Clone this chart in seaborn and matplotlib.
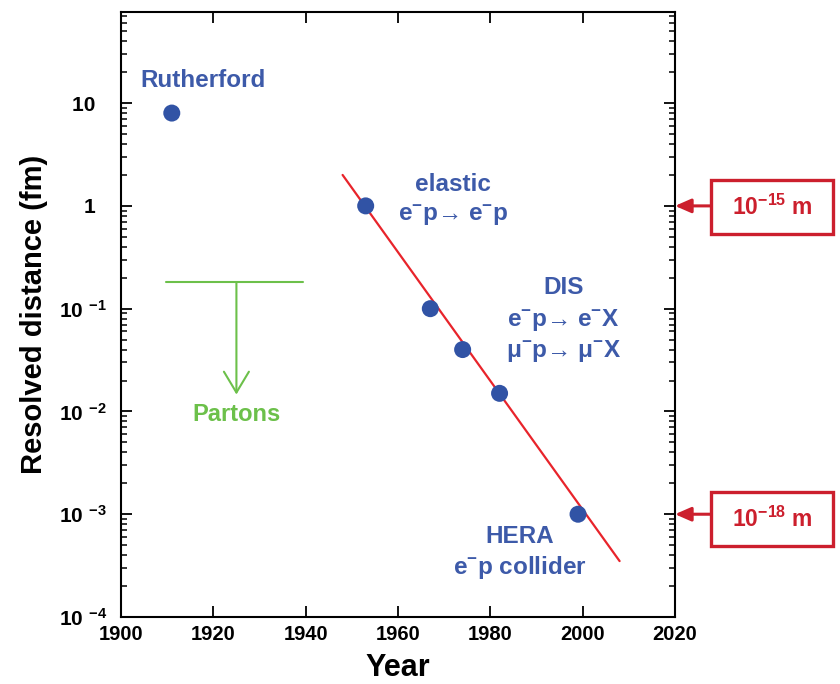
import math
import matplotlib
matplotlib.use("Agg")
import matplotlib.pyplot as plt
from matplotlib.patches import Rectangle
from matplotlib.ticker import FixedLocator, FuncFormatter, LogLocator, NullFormatter
import seaborn as sns
import pandas as pd

# ---- data ----
years = [1911, 1953, 1967, 1974, 1982, 1999]
distance_fm = [8.0, 1.0, 0.1, 0.04, 0.015, 0.001]
fit_years = [1948, 2008]
fit_distance_fm = [2.0, 3.5e-4]
parton_bar_years = [1909.7, 1939.4]
parton_level_fm = 0.18
parton_arrow_year = 1925
parton_arrow_tip_fm = 0.0146
x_ticks = [1900, 1920, 1940, 1960, 1980, 2000, 2020]
y_ticks = [1e-4, 1e-3, 1e-2, 1e-1, 1, 10]

BLUE = "#3153a5"
TXT_BLUE = "#3d5aa9"
GREEN = "#6cc04a"
RED = "#e8242b"
BOX_RED = "#cc1f2d"

sns.set_theme(style="ticks")
plt.rcParams["font.family"] = ["Liberation Sans", "DejaVu Sans"]
plt.rcParams["font.weight"] = "bold"
plt.rcParams["text.color"] = "black"
plt.rcParams["axes.labelcolor"] = "black"
plt.rcParams["xtick.color"] = "black"
plt.rcParams["ytick.color"] = "black"
plt.rcParams["mathtext.fontset"] = "custom"
plt.rcParams["mathtext.rm"] = "Liberation Sans:bold"
plt.rcParams["mathtext.bf"] = "Liberation Sans:bold"
plt.rcParams["mathtext.it"] = "Liberation Sans:bold"
plt.rcParams["mathtext.default"] = "bf"

W, H = 840, 684
fig = plt.figure(figsize=(8.4, 6.84), dpi=100)
ax = fig.add_axes([121 / W, 1 - 617 / H, (675 - 121) / W, (617 - 12) / H])

df_pts = pd.DataFrame({"year": years, "dist": distance_fm})
df_fit = pd.DataFrame({"year": fit_years, "dist": fit_distance_fm})

sns.lineplot(data=df_fit, x="year", y="dist", ax=ax, color=RED, lw=1.6, zorder=2)
sns.scatterplot(data=df_pts, x="year", y="dist", ax=ax, color=BLUE, s=150,
                edgecolor="none", zorder=3)

ax.set_yscale("log")
ax.set_xlim(1900, 2020)
ax.set_ylim(1e-4, 77)

# partons marker
ax.plot(parton_bar_years, [parton_level_fm, parton_level_fm], color=GREEN, lw=1.5)
ax.annotate("", xy=(parton_arrow_year, parton_arrow_tip_fm),
            xytext=(parton_arrow_year, parton_level_fm),
            arrowprops=dict(arrowstyle="->,head_length=1.25,head_width=0.75",
                            color=GREEN, lw=1.5, shrinkA=0, shrinkB=0))
ax.text(parton_arrow_year, 0.0093, "Partons", color=GREEN,
        fontsize=17, fontweight="bold", ha="center", va="center")

# labels for points
kw = dict(color=TXT_BLUE, fontsize=17.5, fontweight="bold", ha="center", va="center")
ax.text(1917.8, 16.7, "Rutherford", **kw)
ax.text(1972, 1.6, "elastic", **kw)
ax.text(1972, 0.80, "e$^{-}$p\u2192 e$^{-}$p", **kw)
ax.text(1995.8, 0.16, "DIS", **kw)
ax.text(1995.8, 0.077, "e$^{-}$p\u2192 e$^{-}$X", **kw)
ax.text(1995.8, 0.039, "\u03bc$^{-}$p\u2192 \u03bc$^{-}$X", **kw)
ax.text(1986.4, 0.00061, "HERA", **kw)
ax.text(1986.4, 0.000300, "e$^{-}$p collider", **kw)

# axes styling
for s in ax.spines.values():
    s.set_linewidth(1.5)
    s.set_color("black")
    s.set_visible(True)

ax.xaxis.set_major_locator(FixedLocator(x_ticks))
ax.yaxis.set_major_locator(FixedLocator(y_ticks))
ax.yaxis.set_minor_locator(LogLocator(base=10, subs=range(2, 10), numticks=20))
ax.yaxis.set_minor_formatter(NullFormatter())


def yfmt(v, pos):
    if v >= 10:
        return "10  "
    if v >= 1:
        return "1  "
    n = int(round(-math.log10(v)))
    return r"10$\ ^{-%d}$" % n


ax.yaxis.set_major_formatter(FuncFormatter(yfmt))
ax.tick_params(axis="both", which="major", direction="in", length=8, width=1.3,
               top=True, right=True, labelsize=15, colors="black")
ax.tick_params(axis="y", which="minor", direction="in", length=4, width=1.1,
               left=True, right=True)
ax.tick_params(axis="y", which="major", pad=10)
ax.tick_params(axis="x", which="major", pad=6, labelsize=14.5)
ax.tick_params(axis="x", which="minor", bottom=False, top=False)
for lab in ax.get_xticklabels() + ax.get_yticklabels():
    lab.set_fontweight("bold")

ax.set_xlabel("Year", fontsize=22, fontweight="bold", labelpad=6, color="black")
ax.set_ylabel("")
fig.text(34 / W, 1 - 314 / H, "Resolved distance (fm)", rotation=90,
         fontsize=21, fontweight="bold", ha="center", va="center", color="black")

# red boxes with arrows
for val, lab, (y0, y1) in [(1.0, "10$^{-15}$ m", (180, 234)),
                           (1e-3, "10$^{-18}$ m", (492, 546))]:
    rect = Rectangle((711 / W, 1 - y1 / H), (833 - 711) / W, (y1 - y0) / H,
                     transform=fig.transFigure, fill=False, edgecolor=BOX_RED,
                     lw=2.4, clip_on=False)
    fig.patches.append(rect)
    fig.text(772 / W, 1 - (y0 + y1) / 2 / H, lab, color=BOX_RED, fontsize=16.5,
             fontweight="bold", ha="center", va="center")
    ax.annotate("", xy=(1.0, val), xycoords=ax.get_yaxis_transform(),
                xytext=(36 * 0.72, 0), textcoords="offset points",
                arrowprops=dict(arrowstyle="-|>,head_length=0.8,head_width=0.35",
                                color=BOX_RED, lw=2.2, shrinkA=0, shrinkB=0),
                annotation_clip=False)

fig.savefig("out.png", dpi=100)
